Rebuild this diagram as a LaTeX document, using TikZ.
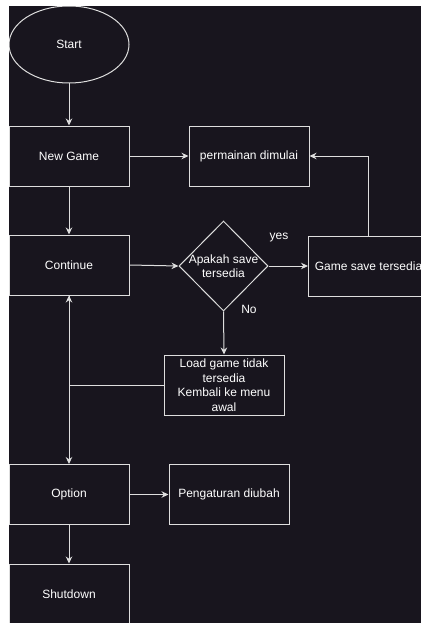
\documentclass[tikz,border=0pt]{standalone}
\usepackage{fontspec}
\setmainfont{Liberation Sans}
\usetikzlibrary{shapes.geometric,arrows.meta}
\definecolor{bgdark}{RGB}{24,21,30}
\definecolor{linec}{RGB}{222,222,222}
\begin{document}
\begin{tikzpicture}[x=1pt,y=-1pt,
  every node/.style={text=white,font=\fontsize{12}{14.5}\selectfont},
  boxnode/.style={draw=linec,line width=1pt,minimum width=120pt,minimum height=60pt,inner sep=0pt,align=center},
  startnode/.style={draw=linec,line width=1pt,ellipse,minimum width=120pt,minimum height=77pt,inner sep=0pt},
  decnode/.style={draw=linec,line width=1pt,diamond,minimum width=89pt,minimum height=90pt,inner sep=0pt},
  lbl/.style={inner sep=0pt,align=center},
  conn/.style={draw=linec,line width=1pt,-{Stealth[length=7pt,width=6.5pt]}}]
\useasboundingbox (0,0) rectangle (420,623);
\fill[white] (-5,-5) rectangle (430,630);
\fill[bgdark] (9,6) rectangle (430,630);

\node[startnode] (start) at (69,44.5) {Start};
\node[boxnode] (newgame) at (69,156) {New Game};
\node[boxnode] (perm) at (249,156) {permainan dimulai};
\node[boxnode] (cont) at (69,265) {Continue};
\node[decnode] (dec) at (223.5,266) {};
\node[lbl] (dect) at (223.5,266) {Apakah save\\tersedia};
\node[boxnode] (gsave) at (368.5,266) {Game save tersedia};
\node[boxnode] (load) at (224,385) {Load game tidak\\tersedia\\Kembali ke menu\\awal};
\node[boxnode] (opt) at (69,494.5) {Option};
\node[boxnode] (peng) at (229,494.5) {Pengaturan diubah};
\node[boxnode] (shut) at (69,594) {Shutdown};
\node[lbl] (yes) at (279,238) {yes};
\node[lbl] (no) at (249,309) {No};

\draw[conn] (start) -- (newgame);
\draw[conn] (newgame) -- (perm);
\draw[conn] (newgame) -- (cont);
\draw[conn] (cont.east) -- (dec.west);
\draw[conn] (dec.east) -- (gsave.west |- dec.east);
\draw[conn] (gsave.north) |- (perm.east);
\draw[conn] (dec.south) -- (load.north);
\draw[conn] (load.west) -| (cont.south);
\draw[conn] (cont.south) -- (opt.north);
\draw[conn] (opt) -- (peng);
\draw[conn] (opt) -- (shut);

\fill[white] (-5,-5) rectangle (8.6,630);
\fill[white] (-5,-5) rectangle (430,5.6);
\end{tikzpicture}
\end{document}
